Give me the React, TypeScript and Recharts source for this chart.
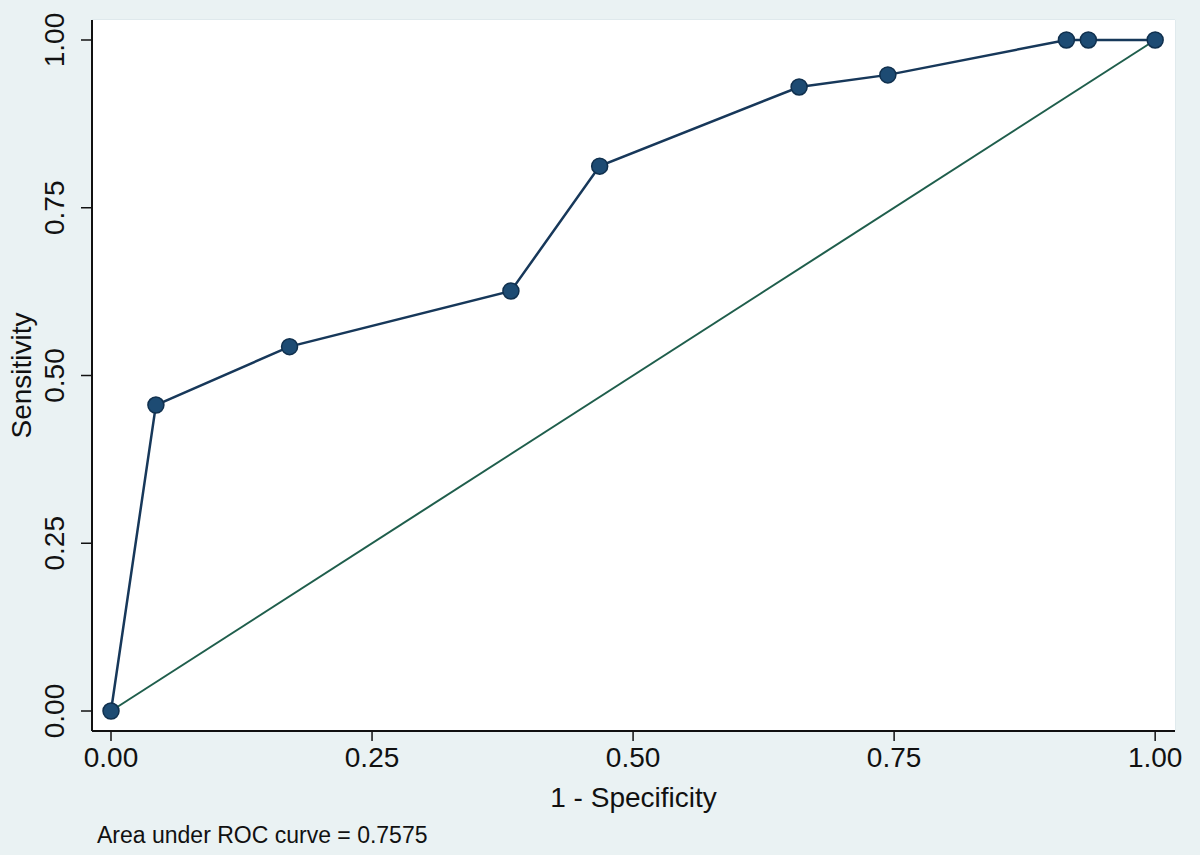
import React from "react";
import {
  LineChart,
  Line,
  XAxis,
  YAxis,
  CartesianGrid,
} from "recharts";

// ROC points (1 - specificity, sensitivity)
const fpr = [0, 0.043, 0.171, 0.383, 0.468, 0.659, 0.744, 0.915, 0.936, 1];
const tpr = [0, 0.456, 0.543, 0.626, 0.812, 0.93, 0.948, 1, 1, 1];
const refX = [0, 1];
const refY = [0, 1];
const axisTicks = [0, 0.25, 0.5, 0.75, 1];
const aucText = "Area under ROC curve = 0.7575";

const rocData = fpr.map((x, i) => ({ x, y: tpr[i] }));
const refData = refX.map((x, i) => ({ x, y: refY[i] }));

const FONT = "Arial, 'Liberation Sans', sans-serif";
const BG = "#eaf2f3";

const YTick = (props: any) => {
  const { x, y, payload } = props;
  const bx = x - 17;
  return (
    <text
      x={bx}
      y={y}
      transform={`rotate(-90 ${bx} ${y})`}
      textAnchor="middle"
      fontSize={28}
      fontFamily={FONT}
      fill="#111"
    >
      {payload.value.toFixed(2)}
    </text>
  );
};

const YLabel = (props: any) => {
  const { viewBox } = props;
  const cx = 31;
  const cy = viewBox.y + viewBox.height / 2;
  return (
    <text
      x={cx}
      y={cy}
      transform={`rotate(-90 ${cx} ${cy})`}
      textAnchor="middle"
      fontSize={28}
      fontFamily={FONT}
      fill="#111"
    >
      Sensitivity
    </text>
  );
};

const XLabel = (props: any) => {
  const { viewBox } = props;
  return (
    <text
      x={viewBox.x + viewBox.width / 2}
      y={807}
      textAnchor="middle"
      fontSize={28}
      fontFamily={FONT}
      fill="#111"
    >
      1 - Specificity
    </text>
  );
};

export default function App() {
  return (
    <div
      style={{
        position: "fixed",
        left: 0,
        top: 0,
        width: 1200,
        height: 855,
        background: BG,
      }}
    >
      <LineChart
        width={1200}
        height={855}
        margin={{ top: 20, right: 25, bottom: 0, left: 0 }}
      >
        <rect x={92} y={20} width={1083} height={711} fill="#fff" />
        <CartesianGrid stroke="#dfe9ec" strokeWidth={1.8} fill="#fff" />
        <XAxis
          type="number"
          dataKey="x"
          domain={[-0.0182, 1.019]}
          ticks={axisTicks}
          tickFormatter={(v: number) => v.toFixed(2)}
          height={124}
          tickSize={10}
          tickMargin={6}
          axisLine={{ stroke: "#111", strokeWidth: 2 }}
          tickLine={{ stroke: "#111", strokeWidth: 1.5 }}
          tick={{ fontSize: 28, fontFamily: FONT, fill: "#111" }}
          label={<XLabel />}
        />
        <YAxis
          type="number"
          dataKey="y"
          domain={[-0.0298, 1.0298]}
          ticks={axisTicks}
          width={92}
          tickSize={11}
          tickMargin={0}
          axisLine={{ stroke: "#111", strokeWidth: 2 }}
          tickLine={{ stroke: "#111", strokeWidth: 1.5 }}
          tick={<YTick />}
          label={<YLabel />}
        />
        <Line
          data={refData}
          dataKey="y"
          type="linear"
          stroke="#1f5e4c"
          strokeWidth={2}
          dot={false}
          activeDot={false}
          isAnimationActive={false}
        />
        <Line
          data={rocData}
          dataKey="y"
          type="linear"
          stroke="#17385a"
          strokeWidth={2.5}
          dot={{ r: 8, fill: "#1d4b73", stroke: "#10304e", strokeWidth: 1.5 }}
          activeDot={false}
          isAnimationActive={false}
        />
      </LineChart>
      <div
        style={{
          position: "absolute",
          left: 97,
          top: 821,
          fontSize: 23,
          fontFamily: FONT,
          color: "#111",
          lineHeight: "28px",
          whiteSpace: "nowrap",
        }}
      >
        {aucText}
      </div>
    </div>
  );
}
